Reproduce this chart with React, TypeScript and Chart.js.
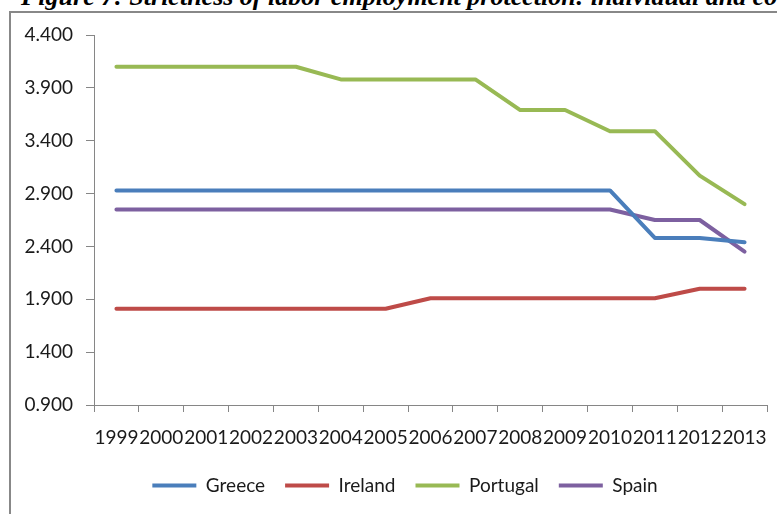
import React, { useEffect, useRef } from "react";
import { Chart, registerables } from "chart.js";

Chart.register(...registerables);

const TITLE = "Figure 7: Strictness of labor employment protection: individual and collective dismissals";
const YEARS = ["1999", "2000", "2001", "2002", "2003", "2004", "2005", "2006", "2007", "2008", "2009", "2010", "2011", "2012", "2013"];
const GREECE = [2.93, 2.93, 2.93, 2.93, 2.93, 2.93, 2.93, 2.93, 2.93, 2.93, 2.93, 2.93, 2.48, 2.48, 2.44];
const IRELAND = [1.81, 1.81, 1.81, 1.81, 1.81, 1.81, 1.81, 1.91, 1.91, 1.91, 1.91, 1.91, 1.91, 2.0, 2.0];
const PORTUGAL = [4.1, 4.1, 4.1, 4.1, 4.1, 3.98, 3.98, 3.98, 3.98, 3.69, 3.69, 3.49, 3.49, 3.07, 2.8];
const SPAIN = [2.75, 2.75, 2.75, 2.75, 2.75, 2.75, 2.75, 2.75, 2.75, 2.75, 2.75, 2.75, 2.65, 2.65, 2.35];
const Y_TICKS = [0.9, 1.4, 1.9, 2.4, 2.9, 3.4, 3.9, 4.4];

const FONT = "Lato";
const AXIS_COLOR = "#868686";
const RIGHT_PAD = 34;

// centre the legend on the whole (partly cropped) chart frame rather than on the padded area
const legendCentre = {
  id: "legendCentre",
  afterLayout(chart: any) {
    if (chart.legend) chart.legend.left += RIGHT_PAD;
  },
};

export default function App() {
  const ref = useRef<HTMLCanvasElement | null>(null);

  useEffect(() => {
    if (!ref.current) return;
    const mk = (label: string, data: number[], color: string) => ({
      label,
      data,
      borderColor: color,
      backgroundColor: color,
      borderWidth: 4,
      pointRadius: 0,
      pointHoverRadius: 0,
      tension: 0,
      borderCapStyle: "round" as const,
      borderJoinStyle: "round" as const,
    });
    const chart = new Chart(ref.current, {
      type: "line",
      data: {
        labels: YEARS,
        datasets: [
          mk("Greece", GREECE, "#4A7EBB"),
          mk("Ireland", IRELAND, "#BE4B48"),
          mk("Portugal", PORTUGAL, "#98B954"),
          mk("Spain", SPAIN, "#7D60A0"),
        ],
      },
      plugins: [legendCentre],
      options: {
        animation: false,
        responsive: false,
        devicePixelRatio: 1,
        layout: { padding: { left: 0, right: RIGHT_PAD, top: 35, bottom: 9 } },
        plugins: {
          tooltip: { enabled: false },
          legend: {
            position: "bottom",
            labels: {
              boxWidth: 44,
              boxHeight: 4,
              padding: 20,
              color: "#1a1a1a",
              font: { family: FONT, size: 19 },
              generateLabels: (c: any) =>
                (Chart.defaults.plugins.legend.labels as any)
                  .generateLabels(c)
                  .map((l: any) => ({ ...l, lineWidth: 0 })),
            },
          },
        },
        scales: {
          x: {
            type: "category",
            offset: true,
            grid: { display: true, drawOnChartArea: false, offset: true, tickLength: 7, color: AXIS_COLOR },
            border: { color: AXIS_COLOR },
            ticks: { maxRotation: 0, minRotation: 0, autoSkip: false, padding: 14, color: "#1a1a1a", font: { family: FONT, size: 19 } },
            afterFit: (s: any) => { s.height = 51; },
          },
          y: {
            min: 0.9,
            max: 4.4,
            grid: { display: true, drawOnChartArea: false, tickLength: 8, color: AXIS_COLOR },
            border: { color: AXIS_COLOR },
            ticks: {
              padding: 13,
              color: "#1a1a1a",
              font: { family: FONT, size: 19 },
              callback: (v: any) => Number(v).toFixed(3),
            },
            afterBuildTicks: (s: any) => { s.ticks = Y_TICKS.map((v) => ({ value: v })); },
            afterFit: (s: any) => { s.width = 85; },
          },
        },
      },
    });
    return () => chart.destroy();
  }, []);

  return (
    <div style={{ position: "fixed", left: 0, top: 0, width: 777, height: 514, overflow: "hidden", background: "#fff" }}>
      <div
        style={{
          position: "absolute",
          left: 21,
          top: -18,
          whiteSpace: "nowrap",
          fontFamily: "'Liberation Serif', 'DejaVu Serif', serif",
          fontWeight: "bold",
          fontStyle: "italic",
          fontSize: 26,
          color: "#000",
        }}
      >
        {TITLE}
      </div>
      <div
        style={{
          position: "absolute",
          left: 9,
          top: 11,
          width: 820,
          height: 540,
          border: "2px solid #888",
          boxSizing: "border-box",
        }}
      />
      <canvas ref={ref} width={792} height={514} style={{ position: "absolute", left: 9, top: 0, width: 792, height: 514 }} />
    </div>
  );
}
